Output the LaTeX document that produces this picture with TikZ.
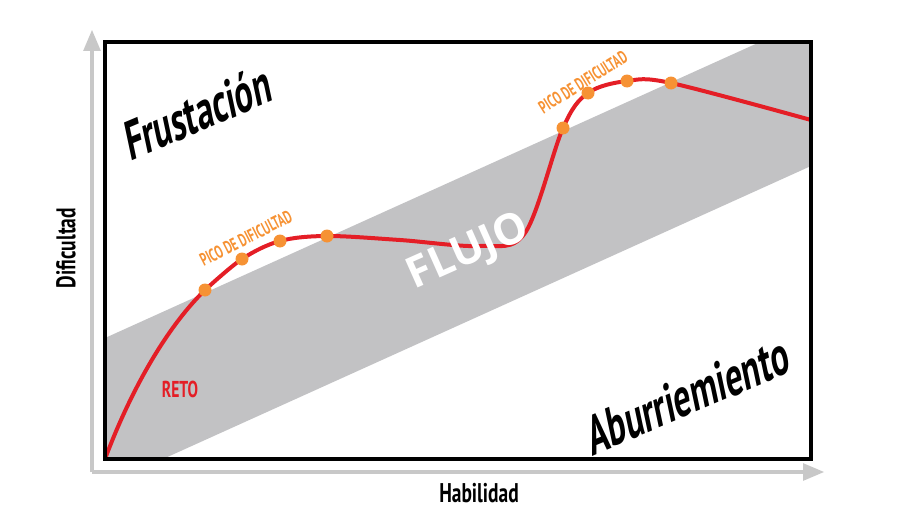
\documentclass[tikz,border=0pt]{standalone}
\usepackage{fontspec}
\setmainfont{PT Sans}
\newfontfamily\flujofont{Open Sans}
\usetikzlibrary{arrows}
\usetikzlibrary{positioning}
\definecolor{axisgray}{RGB}{200,200,200}
\definecolor{bandgray}{RGB}{194,194,196}
\definecolor{curvered}{RGB}{228,30,38}
\definecolor{dotorange}{RGB}{246,146,52}
\tikzstyle{dot} = [circle,fill=dotorange,draw=none,inner sep=0pt,
minimum size=13pt]
\tikzstyle{zone} = [font=\bfseries\fontsize{54}{54}\selectfont, inner sep=0pt,
xscale=0.65, xslant=0.3]
\tikzstyle{peak} = [font=\bfseries\fontsize{18}{18}\selectfont, text=dotorange,
inner sep=0pt, xscale=0.64]
\tikzstyle{axislabel} = [font=\bfseries\fontsize{27}{27}\selectfont, inner sep=0pt,
xscale=0.72]
\tikzstyle{axis} = [draw=axisgray, line width=4pt, ->]
\tikzset{>={triangle 45}}

\begin{document}
\begin{tikzpicture}[x=1pt,y=-1pt]
  \useasboundingbox (0,0) rectangle (914,514);

  % axes
  \coordinate (orig) at (92,472);
  \coordinate (ytop) at (92,30);
  \coordinate (xend) at (824,472);
  \draw[axis] (orig) -- (ytop);
  \draw[axis] (orig) -- (xend);

  % flow band
  \fill[bandgray] (105,338) -- (760,42) -- (811,42) -- (811,166) -- (163,459) -- (105,459) -- cycle;

  % curve
  \coordinate (c0) at (105,459);
  \coordinate (c1) at (205,290);
  \coordinate (c2) at (242,259);
  \coordinate (c3) at (280,241);
  \coordinate (c4) at (327,236);
  \coordinate (c5) at (400,240);
  \coordinate (c6) at (480,246);
  \coordinate (c7) at (525,233);
  \coordinate (c8) at (563,128);
  \coordinate (c9) at (588,93);
  \coordinate (c10) at (627,81);
  \coordinate (c11) at (671,83);
  \coordinate (c12) at (811,120);
  \begin{scope}
    \clip (105,42) rectangle (811,459);
    \draw[curvered, line width=4pt] (c0) .. controls (127,400) and (162,332) .. (c1);
    \draw[curvered, line width=4pt] plot[smooth, tension=0.55] coordinates
      {(c1) (c2) (c3) (c4) (c5) (c6) (c7) (c8) (c9) (c10) (c11) (c12)};
  \end{scope}

  \foreach \p in {1,2,3,4,8,9,10,11}
    \node[dot] (d\p) at (c\p) {};

  % frame
  \draw[line width=4pt] (105,42) rectangle (811,459);

  % labels
  \node[rotate=23, zone] (frust) at (198,112) {Frustación};
  \node[rotate=23, zone] (aburr) at (688,395) {Aburriemiento};
  \node[font=\flujofont\bfseries\fontsize{43}{43}\selectfont, text=white, rotate=24,
    inner sep=0pt] (flujo) at (469,253) {FLUJO};
  \node[rotate=27, peak] (pico1) at (246,238) {PICO DE DIFICULTAD};
  \node[rotate=32, peak] (pico2) at (583,82) {PICO DE DIFICULTAD};
  \node[font=\bfseries\fontsize{23}{23}\selectfont, text=curvered, xscale=0.68,
    inner sep=0pt] (reto) at (180,389) {RETO};
  \node[rotate=90, axislabel] (dific) at (66,248) {Dificultad};
  \node[axislabel] (habil) at (479,493) {Habilidad};
\end{tikzpicture}
\end{document}
